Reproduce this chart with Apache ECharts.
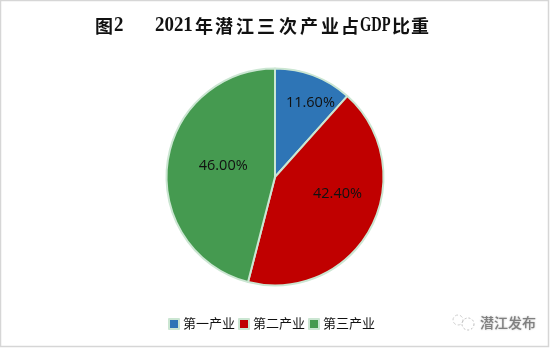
<!DOCTYPE html>
<html><head><meta charset="utf-8">
<style>html,body{margin:0;padding:0;background:#fff}#c{width:550px;height:348px}</style>
<script src="https://cdn.jsdelivr.net/npm/echarts@6/dist/echarts.min.js"></script>
</head><body><div id="c"></div>
<script>
const categories = ['第一产业','第二产业','第三产业'];
const values = [11.6,42.4,46.0];
const colors = ['#2e75b6','#c00000','#459a50'];
const labelOffsets = [[15,-21],[12,-10],[5,-4]];
const titleCjk = [['图',95],['年',195],['潜',215],['江',236],['三',257],['次',279],['产',300],['业',321],['占',341],['比',392],['重',411]];
const titleLatin = [['2',114,0.9],['2021',155,0.9],['GDP',360,0.69]];
const chart = echarts.init(document.getElementById('c'),null,{renderer:'canvas'});
const cjk = '"Liberation Sans","Noto Sans CJK SC",sans-serif';
chart.setOption({
  animation:false,
  backgroundColor:'#fff',
  legend:{
    data:categories,
    left:163, top:312.5, itemWidth:10, itemHeight:10, itemGap:3,
    icon:'rect',
    textStyle:{fontSize:13,color:'#111',fontFamily:cjk,padding:[0,0,0,-1]},
    itemStyle:{borderColor:'#cbe6d2',borderWidth:2}
  },
  series:[{
    type:'pie',
    center:[275,177],
    radius:[0,108.5],
    startAngle:90,
    clockwise:true,
    avoidLabelOverlap:false,
    itemStyle:{borderColor:'#cbe6d2',borderWidth:2},
    label:{show:true,position:'inside',color:'#111',fontSize:14.5,fontFamily:'"Open Sans",sans-serif',
      formatter:p=>p.value.toFixed(2)+'%'},
    labelLine:{show:false},
    data:categories.map((n,i)=>({name:n,value:values[i],itemStyle:{color:colors[i]},label:{offset:labelOffsets[i]}}))
  }],
  graphic:[
    {type:'rect',shape:{x:0.5,y:0.5,width:548,height:346},style:{fill:'none',stroke:'#d6d6d6',lineWidth:1.5},z:-1},
    ...titleCjk.map(([t,x])=>({type:'text',x:x,y:26,style:{text:t,font:'bold 18px "Noto Sans CJK SC"',fill:'#111',verticalAlign:'middle'}})),
    ...titleLatin.map(([t,x,s])=>({type:'text',x:x,y:26,scaleX:s,style:{text:t,font:'bold 21px "Liberation Serif"',fill:'#111',verticalAlign:'middle'}})),
    {type:'circle',shape:{cx:458,cy:320,r:5},style:{fill:'none',stroke:'#cfcfcf',lineWidth:1,lineDash:[3,2]}},
    {type:'circle',shape:{cx:468,cy:324,r:6},style:{fill:'none',stroke:'#bdbdbd',lineWidth:1,lineDash:[2,2]}},
    {type:'text',x:480,y:316,style:{text:'潜江发布',font:'500 14px "Noto Sans CJK SC"',fill:'#808080',textShadowColor:'#bbb',textShadowBlur:2}}
  ]
});
</script></body></html>
